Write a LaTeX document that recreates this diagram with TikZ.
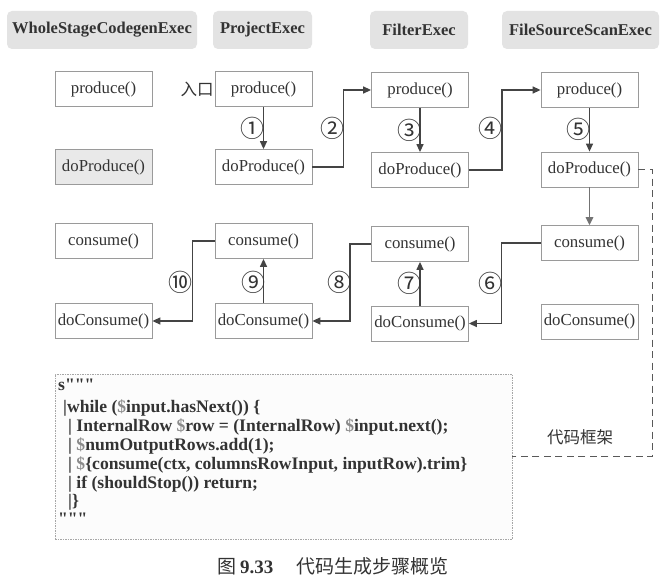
\documentclass[tikz,border=0pt]{standalone}
\usepackage{fontspec}
\setmainfont{Liberation Serif}
\newfontfamily\codefont{Liberation Serif}
\newfontfamily\cjk{Noto Sans CJK SC}
\usetikzlibrary{arrows.meta}
\definecolor{txt}{HTML}{333333}
\definecolor{hdrfill}{HTML}{E3E3E3}
\definecolor{boxline}{HTML}{9A9A9A}
\definecolor{arrline}{HTML}{444444}
\definecolor{dollar}{HTML}{8A8A8A}
\newcommand\dol{{\color{dollar}\$}}
\newcommand\qqq{"""}
\tikzset{
  hdr/.style={fill=hdrfill, rounded corners=5pt, minimum height=38pt, inner sep=0pt,
    text=txt, font=\fontsize{16.5}{19}\selectfont\bfseries},
  fbox/.style={draw=boxline, line width=0.8pt, fill=white, minimum width=97pt, minimum height=35pt,
    inner sep=0pt, text=txt, font=\fontsize{16.8}{19}\selectfont},
  grayfill/.style={fill=hdrfill!80},
  arr/.style={draw=arrline, line width=1.3pt, -{Triangle[length=8pt,width=7pt]}},
  arrg/.style={draw=black!55, line width=1.5pt, -{Triangle[length=8pt,width=7.5pt]}},
  num/.style={text=txt, inner sep=0pt, font=\cjk\fontsize{24}{26}\selectfont},
  cjkt/.style={text=txt, inner sep=0pt, font=\cjk\fontsize{16.5}{19}\selectfont},
  codebox/.style={draw=black!35, line width=0.6pt, dash pattern=on 1.5pt off 1pt, fill=black!1,
    minimum width=457pt, minimum height=165pt, inner sep=0pt},
  codeln/.style={anchor=base west, inner sep=0pt, text=txt, font=\codefont\fontsize{17.6}{20}\selectfont\bfseries},
  dsh/.style={draw=black!65, line width=1pt, dash pattern=on 7pt off 4.5pt},
}
\begin{document}
\begin{tikzpicture}[x=1pt,y=-1pt]
\useasboundingbox[fill=white] (0,0) rectangle (670,586);

% headers
\node[hdr, minimum width=190pt] (h1) at (102,30) {WholeStageCodegenExec};
\node[hdr, minimum width=99pt] (h2) at (262.5,30) {ProjectExec};
\node[hdr, minimum width=98pt] (h3) at (419,30) {FilterExec};
\node[hdr, minimum width=157pt] (h4) at (580.5,30) {FileSourceScanExec};

% column 1
\node[fbox] (p1) at (103.5,89) {produce()};
\node[fbox, grayfill] (pd1) at (103.5,167) {doProduce()};
\node[fbox] (c1) at (103.5,241) {consume()};
\node[fbox] (dc1) at (103.5,321) {doConsume()};
% column 2
\node[fbox] (p2) at (263.5,89) {produce()};
\node[fbox] (pd2) at (263.5,167) {doProduce()};
\node[fbox] (c2) at (263.5,241) {consume()};
\node[fbox] (dc2) at (263.5,321) {doConsume()};
% column 3
\node[fbox] (p3) at (420,90) {produce()};
\node[fbox] (pd3) at (420,170) {doProduce()};
\node[fbox] (c3) at (420,244) {consume()};
\node[fbox] (dc3) at (420,323.5) {doConsume()};
% column 4
\node[fbox] (p4) at (589.5,90) {produce()};
\node[fbox] (pd4) at (589.5,169.5) {doProduce()};
\node[fbox] (c4) at (589.5,243) {consume()};
\node[fbox] (dc4) at (589.5,321.5) {doConsume()};

\node[cjkt] (entry) at (197,89) {入口};

% connectors
\draw[arr] (p2) -- (pd2);
\draw[arr] (pd2.east) -- ++(31,0) |- (p3.west);
\draw[arr] (p3) -- (pd3);
\draw[arr] (pd3.east) -- ++(33,0) |- (p4.west);
\draw[arr] (p4) -- (pd4);
\draw[arrg] (pd4) -- (c4);
\draw[arr] (c4.west) -- ++(-39,0) |- (dc3.east);
\draw[arr] (dc3) -- (c3);
\draw[arr] (c3.west) -- ++(-21,0) |- (dc2.east);
\draw[arr] (dc2) -- (c2);
\draw[arr] (c2.west) -- ++(-22,0) |- (dc1.east);

% step numbers
\node[num] (n1) at (252,128) {①};
\node[num] (n2) at (332,128) {②};
\node[num] (n3) at (409,130) {③};
\node[num] (n4) at (490,128) {④};
\node[num] (n5) at (578,129) {⑤};
\node[num] (n6) at (490,283) {⑥};
\node[num] (n7) at (409,283) {⑦};
\node[num] (n8) at (339,282) {⑧};
\node[num] (n9) at (253,282) {⑨};
\node[num] (n10) at (180,282) {⑩};

% code box
\node[codebox] (code) at (283.5,456.5) {};
\node[codeln] (l1) at (58,390) {s\qqq};
\node[codeln] (l2) at (63,412) {|while (\dol input.hasNext()) \{};
\node[codeln] (l3) at (68,431) {| InternalRow \dol row = (InternalRow) \dol input.next();};
\node[codeln] (l4) at (68,450) {| \dol numOutputRows.add(1);};
\node[codeln] (l5) at (68,469) {| \dol\{consume(ctx, columnsRowInput, inputRow).trim\}};
\node[codeln] (l6) at (68,488) {| if (shouldStop()) return;};
\node[codeln] (l7) at (68,506) {|\}};
\node[codeln] (l8) at (58,524) {\qqq};

\draw[dsh] (pd4.east) -- ++(14,0) |- (code.east);
\node[cjkt] (frame) at (580,437) {代码框架};

% caption
\node[text=txt, inner sep=0pt, font=\fontsize{19}{22}\selectfont] (cap) at (333,566)
  {{\cjk 图}\,\textbf{9.33}\hspace{1.2em}{\cjk 代码生成步骤概览}};
\end{tikzpicture}
\end{document}
